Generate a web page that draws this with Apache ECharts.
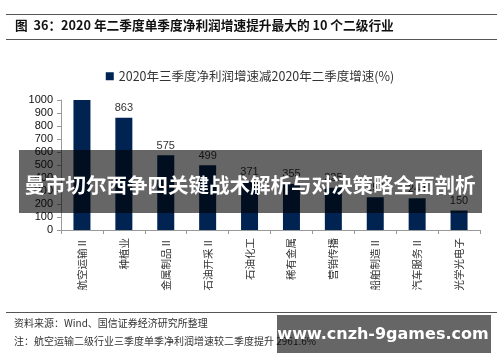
<!DOCTYPE html>
<html><head><meta charset="utf-8">
<script src="https://cdn.jsdelivr.net/npm/echarts@6/dist/echarts.min.js"></script>
<style>html,body{margin:0;padding:0;background:#fff}#c{width:500px;height:362px}</style>
</head><body><div id="c"></div>
<script>
var categories = ['航空运输Ⅱ','种植业','金属制品Ⅱ','石油开采Ⅱ','石油化工','稀有金属','营销传播','船舶制造Ⅱ','汽车服务Ⅱ','光学光电子'];
var values = [1000, 863, 575, 499, 371, 355, 325, 252, 244, 150];
var hiddenLabels = [0];
var yTicks = [0,100,200,300,400,500,600,700,800,900,1000];
var seriesName = '2020年三季度净利润增速减2020年二季度增速(%)';
var titleText = '图  36：2020 年二季度单季度净利润增速提升最大的 10 个二级行业';
var sourceText = '资料来源：Wind、国信证券经济研究所整理';
var noteText = '注：航空运输二级行业三季度单季净利润增速较二季度提升 2961.6%';
var bannerText = '曼市切尔西争四关键战术解析与对决策略全面剖析';
var watermarkText = 'www.cnzh-9games.com';

var cjk = '"Noto Sans CJK SC", "Liberation Sans", sans-serif';
var chart = echarts.init(document.getElementById('c'), null, {renderer:'canvas'});
chart.setOption({
  animation:false,
  backgroundColor:'#fff',
  textStyle:{fontFamily:cjk},
  legend:{
    top:65, left:'center', itemWidth:8, itemHeight:8, icon:'rect', itemGap:4,
    textStyle:{fontSize:12.5, color:'#333', fontFamily:cjk},
    data:[seriesName]
  },
  grid:{left:61, right:20, top:100, bottom:132, containLabel:false},
  xAxis:{
    type:'category', data:categories,
    axisLine:{lineStyle:{color:'#999'}},
    axisTick:{show:true, alignWithLabel:false, length:4, lineStyle:{color:'#999'}},
    axisLabel:{rotate:90, fontSize:10.5, color:'#333', margin:8, interval:0, fontFamily:cjk}
  },
  yAxis:{
    type:'value', min:yTicks[0], max:yTicks[yTicks.length-1], interval:100,
    splitLine:{show:false},
    axisLine:{show:true, lineStyle:{color:'#999'}},
    axisTick:{show:true, length:4, lineStyle:{color:'#999'}},
    axisLabel:{fontSize:11, color:'#111', margin:8, fontFamily:'"Liberation Sans", Arial, sans-serif',
      formatter:function(v){return String(v);}}
  },
  series:[{
    name:seriesName, type:'bar', barWidth:17,
    itemStyle:{color:'#002352'},
    label:{show:true, position:'top', fontSize:11, color:'#333', distance:4, fontFamily:'"Liberation Sans", Arial, sans-serif'},
    data:values.map(function(v,i){
      return hiddenLabels.indexOf(i)>=0 ? {value:v, label:{show:false}} : v;
    })
  }],
  graphic:[
    {type:'line', shape:{x1:6,y1:14.5,x2:497,y2:14.5}, style:{stroke:'#555', lineWidth:1}},
    {type:'text', left:15, top:19, style:{text:titleText, font:'bold 12.7px '+cjk, fill:'#111'}},
    {type:'line', shape:{x1:6,y1:39.5,x2:497,y2:39.5}, style:{stroke:'#555', lineWidth:1}},
    {type:'line', shape:{x1:6,y1:312.5,x2:497,y2:312.5}, style:{stroke:'#555', lineWidth:1}},
    {type:'text', left:14, top:318, style:{text:sourceText, font:'10px '+cjk, fill:'#333'}},
    {type:'text', left:14, top:336, style:{text:noteText, font:'10px '+cjk, fill:'#333'}},
    {type:'rect', shape:{x:19,y:150,width:463,height:63}, style:{fill:'rgba(0,0,0,0.6)'}, z:100},
    {type:'text', x:250, y:185, style:{text:bannerText, font:'bold 20.5px '+cjk, fill:'#fff', align:'center', verticalAlign:'middle'}, z:101},
    {type:'rect', shape:{x:277,y:315,width:214,height:38}, style:{fill:'rgba(0,0,0,0.6)'}, z:100},
    {type:'text', x:383, y:335, style:{text:watermarkText, font:'bold 16px "DejaVu Sans", sans-serif', fill:'#fff', align:'center', verticalAlign:'middle'}, z:101}
  ]
});
</script></body></html>
